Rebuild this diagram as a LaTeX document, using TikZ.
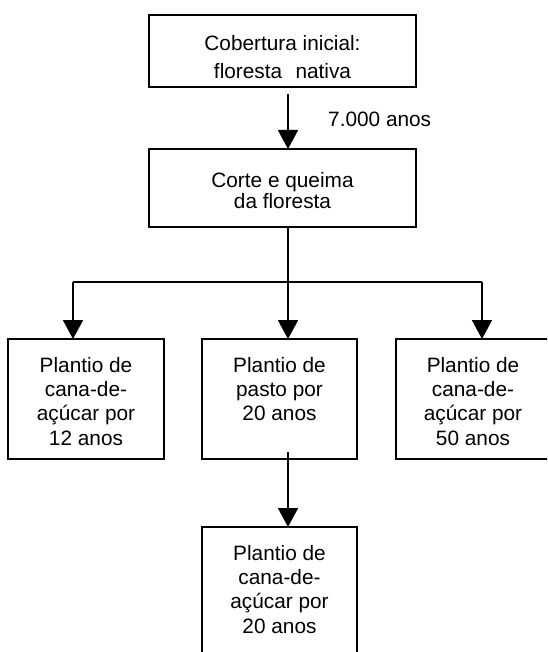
\documentclass[tikz,border=0pt]{standalone}
\usepackage{fontspec}
\setmainfont{Liberation Sans}
\usetikzlibrary{arrows.meta}
\begin{document}
\begin{tikzpicture}[x=1pt,y=-1pt,
  box/.style={draw, line width=1.8pt, inner sep=0pt, outer sep=0pt, anchor=north west},
  lbl/.style={inner sep=0pt, anchor=north, align=center},
  arr/.style={line width=1.8pt, -{Triangle[width=20pt,length=19pt]}},
  ln/.style={line width=1.8pt},
  fa/.style={font=\fontsize{20.8}{28.5}\selectfont},
  fb/.style={font=\fontsize{20.8}{21.5}\selectfont},
  fc/.style={font=\fontsize{20.8}{24.3}\selectfont}]
\useasboundingbox (0,0) rectangle (547,652);
\clip (0,0) rectangle (547,652);
% boxes
\node[box, minimum width=267pt, minimum height=72pt] (top) at (149,15) {};
\node[box, minimum width=267pt, minimum height=78pt] (sec) at (149,149) {};
\node[box, minimum width=156pt, minimum height=120pt] (lb) at (8,339) {};
\node[box, minimum width=155pt, minimum height=120pt] (mb) at (202,339) {};
\node[box, minimum width=154pt, minimum height=120pt] (rb) at (396,339) {};
\node[box, minimum width=155pt, minimum height=140pt] (bb) at (202,527) {};
% texts
\node[lbl, fa] (ttop) at ([yshift=-20pt]top.north) {Cobertura inicial:\\floresta\hspace{0.64em}nativa};
\node[lbl, fb] (tsec) at ([yshift=-23pt]sec.north) {Corte e queima\\da floresta};
\node[lbl, fc] (tlb) at ([yshift=-18pt]lb.north) {Plantio de\\cana-de-\\açúcar por\\12 anos};
\node[lbl, fc] (tmb) at ([yshift=-18pt]mb.north) {Plantio de\\pasto por\\20 anos};
\node[lbl, fc] (trb) at ([yshift=-18pt]rb.north) {Plantio de\\cana-de-\\açúcar por\\50 anos};
\node[lbl, fc] (tbb) at ([yshift=-18pt]bb.north) {Plantio de\\cana-de-\\açúcar por\\20 anos};
\node[inner sep=0pt, anchor=base west, font=\fontsize{20.8}{24}\selectfont] (yrs) at (328,127) {7.000 anos};
% connector points
\coordinate (ax) at (288,0);
\coordinate (la) at (73,282);
\coordinate (ra) at (482,282);
% connectors
\draw[arr, shorten <=7pt] (top.south -| ax) -- (sec.north -| ax);
\draw[arr] (sec.south -| ax) -- (mb.north -| ax);
\draw[ln] (la) -- (ra);
\draw[arr] (la) -- (lb.north -| la);
\draw[arr] (ra) -- (rb.north -| ra);
\draw[arr, shorten <=-7pt] (mb.south -| ax) -- (bb.north -| ax);
\end{tikzpicture}
\end{document}
